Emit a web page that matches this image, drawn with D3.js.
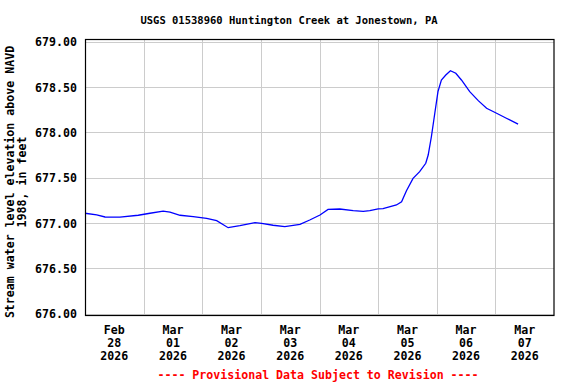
<!DOCTYPE html>
<html>
<head>
<meta charset="utf-8">
<script src="https://cdn.jsdelivr.net/npm/d3@7"></script>
<style>
  body { margin: 0; background: #fff; }
  text { font-family: "DejaVu Sans Mono", "Liberation Mono", monospace; }
  .tickLabel { font-size: 11.6px; font-weight: bold; fill: #000; }
  .grid line { stroke: #cccccc; stroke-width: 1; shape-rendering: crispEdges; }
  .grid path { display: none; }
</style>
</head>
<body>
<div id="chart"></div>
<script>
// station info
let title = "USGS 01538960 Huntington Creek at Jonestown, PA";
let yLabel = ["Stream water level elevation above NAVD", "1988, in feet"];
let footNote = "---- Provisional Data Subject to Revision ----";

// hours after Feb 28 2026 00:00 and water level (ft)
let hours = [0, 4.8, 8.2, 14.3, 21.8, 26.6, 32, 34.8, 38.9, 44.3, 49.8, 53.9, 58.6, 63.4,
    69.6, 72.3, 77, 81.8, 88, 92, 96.2, 99.5, 104.3, 109.8, 113.9, 116.6, 120, 122,
    127.5, 129.6, 131.6, 134.3, 137, 139.5, 140.5, 141.8, 143.2, 144.5, 145.9, 147.7,
    149.6, 151.8, 154.1, 157.5, 161, 164.4, 168.5, 172.5, 177.3];
let levels = [677.107, 677.09, 677.066, 677.065, 677.085, 677.107, 677.13, 677.12, 677.085,
    677.07, 677.05, 677.025, 676.948, 676.97, 677.003, 676.996, 676.975, 676.96, 676.985,
    677.033, 677.088, 677.15, 677.154, 677.135, 677.128, 677.135, 677.155, 677.157,
    677.198, 677.234, 677.356, 677.492, 677.565, 677.658, 677.749, 677.95, 678.209,
    678.447, 678.576, 678.63, 678.678, 678.65, 678.576, 678.447, 678.348, 678.264,
    678.209, 678.154, 678.09];

// axis ticks
let yTicks = [676.0, 676.5, 677.0, 677.5, 678.0, 678.5, 679.0];
let dayTicks = ["2026-02-28", "2026-03-01", "2026-03-02", "2026-03-03",
    "2026-03-04", "2026-03-05", "2026-03-06", "2026-03-07"];
let xStart = "2026-02-28", xEnd = "2026-03-08";

let parseDay = d3.timeParse("%Y-%m-%d");
let start = parseDay(xStart);
let data = hours.map((h, i) => ({date: new Date(+start + h * 3600e3), level: levels[i]}));

let margin = {top: 39, right: 22, bottom: 68, left: 85};
let svgWidth = 576, svgHeight = 384;
let width = svgWidth - margin.left - margin.right;
let height = svgHeight - margin.top - margin.bottom;

let svg = d3.select("#chart").append("svg")
    .attr("width", svgWidth)
    .attr("height", svgHeight);

let g = svg.append("g")
    .attr("transform", "translate(" + margin.left + "," + margin.top + ")");

let xScale = d3.scaleTime()
    .domain([parseDay(xStart), parseDay(xEnd)])
    .range([0, width]);
let yScale = d3.scaleLinear()
    .domain([676, 679])
    .range([height - 2.3, 2.5]);

// horizontal grid + y labels
let yAxis = g.append("g")
    .attr("class", "grid")
    .call(d3.axisLeft(yScale)
        .tickValues(yTicks)
        .tickFormat(d3.format(".2f"))
        .tickSize(-width)
        .tickPadding(8));
yAxis.selectAll("text")
    .attr("class", "tickLabel")
    .attr("dy", "0.36em");

// vertical grid at midnight
let days = dayTicks.map(parseDay);
g.append("g")
    .attr("class", "grid")
    .attr("transform", "translate(0," + height + ")")
    .call(d3.axisBottom(xScale)
        .tickValues(days)
        .tickFormat("")
        .tickSize(-height));

// day labels centred at noon
let fmt = [d3.timeFormat("%b"), d3.timeFormat("%d"), d3.timeFormat("%Y")];
let labels = g.selectAll(".dayLabel").data(days);
labels.enter().append("text")
    .attr("class", "tickLabel dayLabel")
    .attr("text-anchor", "middle")
    .attr("transform", d => "translate(" + xScale(d3.timeHour.offset(d, 12)) + "," + height + ")")
    .each(function(d){
        let t = d3.select(this);
        fmt.forEach((f, i) => {
            t.append("tspan")
                .attr("x", 0)
                .attr("y", 18 + i * 13)
                .text(f(d));
        });
    });

// water level line
let line = d3.line()
    .x(d => xScale(d.date))
    .y(d => yScale(d.level));
g.append("path")
    .datum(data)
    .attr("fill", "none")
    .attr("stroke", "#0000ff")
    .attr("stroke-width", 1.3)
    .attr("d", line);

// frame
g.append("rect")
    .attr("x", 0.5)
    .attr("y", 0.5)
    .attr("width", width - 0.5)
    .attr("height", height - 1)
    .attr("fill", "none")
    .attr("stroke", "#000")
    .attr("stroke-width", 1.2);

svg.append("text")
    .attr("x", 289)
    .attr("y", 24)
    .attr("text-anchor", "middle")
    .style("font-size", "10.5px")
    .style("font-weight", "bold")
    .text(title);

let yl = svg.append("text")
    .attr("class", "tickLabel")
    .attr("text-anchor", "middle")
    .attr("transform", "translate(0,182) rotate(-90)");
yLabel.forEach((s, i) => {
    yl.append("tspan")
        .attr("x", 0)
        .attr("y", 14 + i * 12)
        .text(s);
});

svg.append("text")
    .attr("class", "tickLabel")
    .attr("x", 318)
    .attr("y", 379)
    .attr("text-anchor", "middle")
    .style("fill", "#ff0000")
    .text(footNote);
</script>
</body>
</html>
